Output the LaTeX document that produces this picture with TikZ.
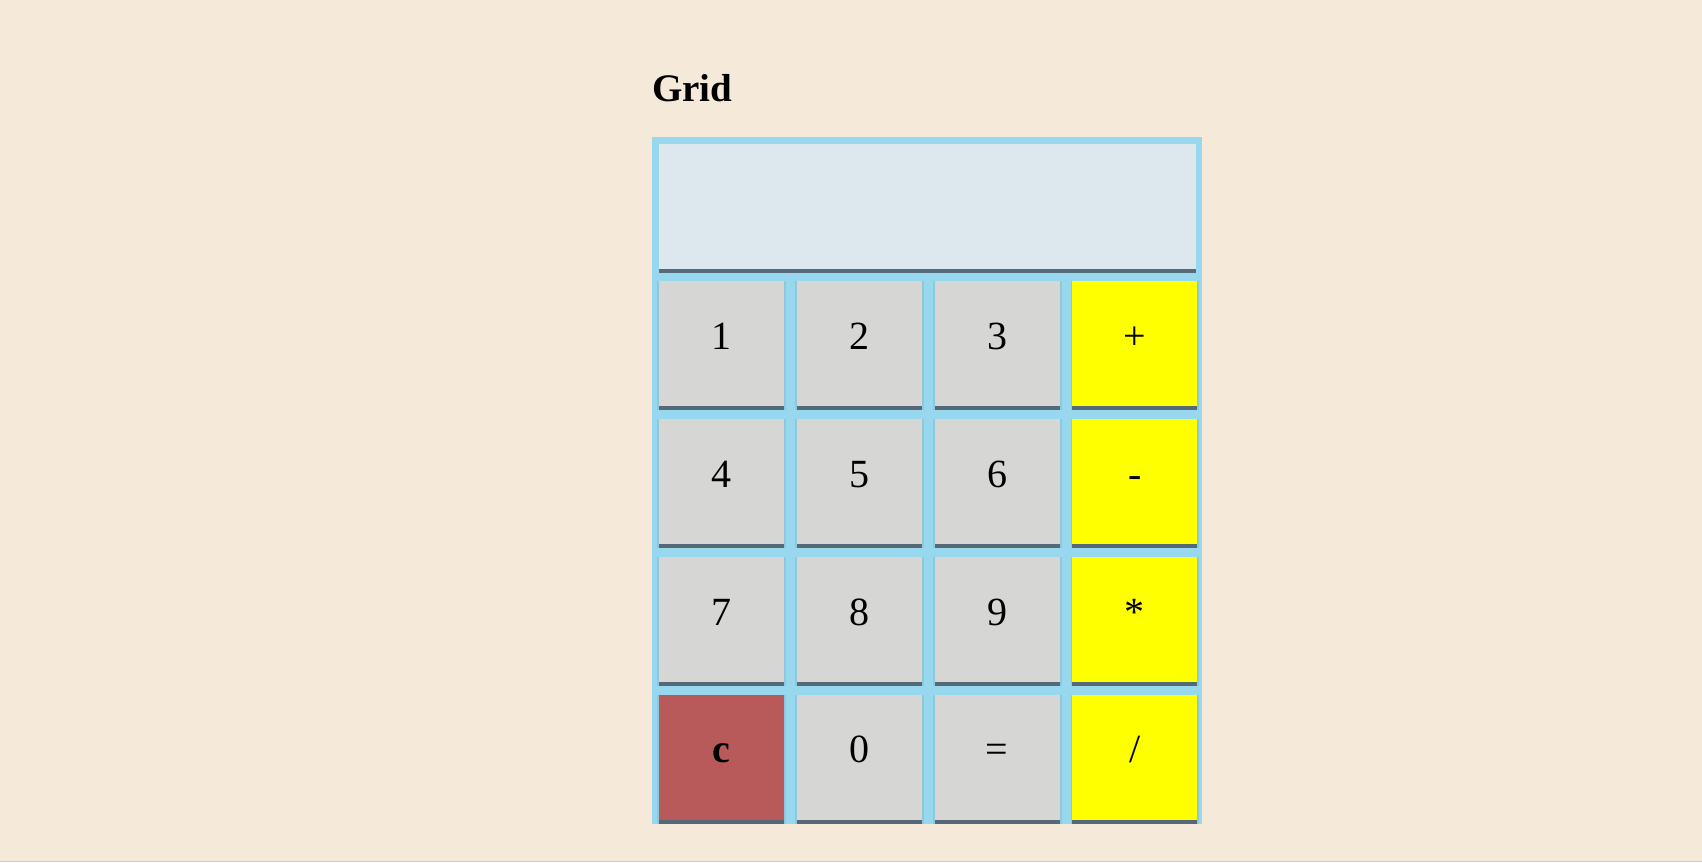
\documentclass[tikz,border=0pt]{standalone}
\usepackage{fontspec}
\setmainfont{Liberation Serif}
\usetikzlibrary{positioning, shadows}
\definecolor{page}{HTML}{F5E9DA}
\definecolor{frame}{HTML}{98D8EE}
\definecolor{screenbg}{HTML}{DDE8EE}
\definecolor{keybg}{HTML}{D6D6D4}
\definecolor{opbg}{HTML}{FFFF00}
\definecolor{clrbg}{HTML}{B85A59}
\definecolor{keyshade}{HTML}{4B5866}
\tikzset{
  pad/.style = {rectangle, inner sep=0pt, fill=keybg,
    minimum width=125pt, minimum height=125pt,
    text height=20pt, text depth=9pt,
    font=\fontsize{40}{48}\selectfont,
    drop shadow={fill=keyshade, opacity=.85, shadow xshift=0pt,
      shadow yshift=-4pt}},
  key/.style = {pad,
    general shadow={fill=keyshade, opacity=.12, shadow xshift=0pt,
      shadow yshift=-2pt, shadow scale=1.03}},
  opkey/.style = {key, fill=opbg},
  clrkey/.style = {key, fill=clrbg, font=\fontsize{40}{48}\selectfont\bfseries},
  screen/.style = {pad, minimum width=537pt, fill=screenbg}
}
\begin{document}
\begin{tikzpicture}[x=1pt, y=-1pt]
\useasboundingbox[fill=page] (0,0) rectangle (1702,862);
\draw[black!20] (0,861.5) -- (1702,861.5);
\node [anchor=base west, inner sep=0pt,
  font=\fontsize{39}{47}\selectfont\bfseries] (title) at (652,101) {Grid};
\fill[frame] (652,137) rectangle (1202,824);
\node [screen, anchor=north west] (screen) at (659,144) {};
% row 1
\node [key, anchor=north west] (k1) at (659,281) {1};
\node [key, right=12.33pt of k1] (k2) {2};
\node [key, right=12.33pt of k2] (k3) {3};
\node [opkey, right=12.33pt of k3] (kplus) {+};
% row 2
\node [key, below=12.5pt of k1] (k4) {4};
\node [key, right=12.33pt of k4] (k5) {5};
\node [key, right=12.33pt of k5] (k6) {6};
\node [opkey, right=12.33pt of k6] (kminus) {-};
% row 3
\node [key, below=12.5pt of k4] (k7) {7};
\node [key, right=12.33pt of k7] (k8) {8};
\node [key, right=12.33pt of k8] (k9) {9};
\node [opkey, right=12.33pt of k9] (ktimes) {*};
% row 4
\node [clrkey, below=12.5pt of k7] (kclear) {c};
\node [key, right=12.33pt of kclear] (k0) {0};
\node [key, right=12.33pt of k0] (kequal) {=};
\node [opkey, right=12.33pt of kequal] (kdiv) {/};
\end{tikzpicture}
\end{document}
